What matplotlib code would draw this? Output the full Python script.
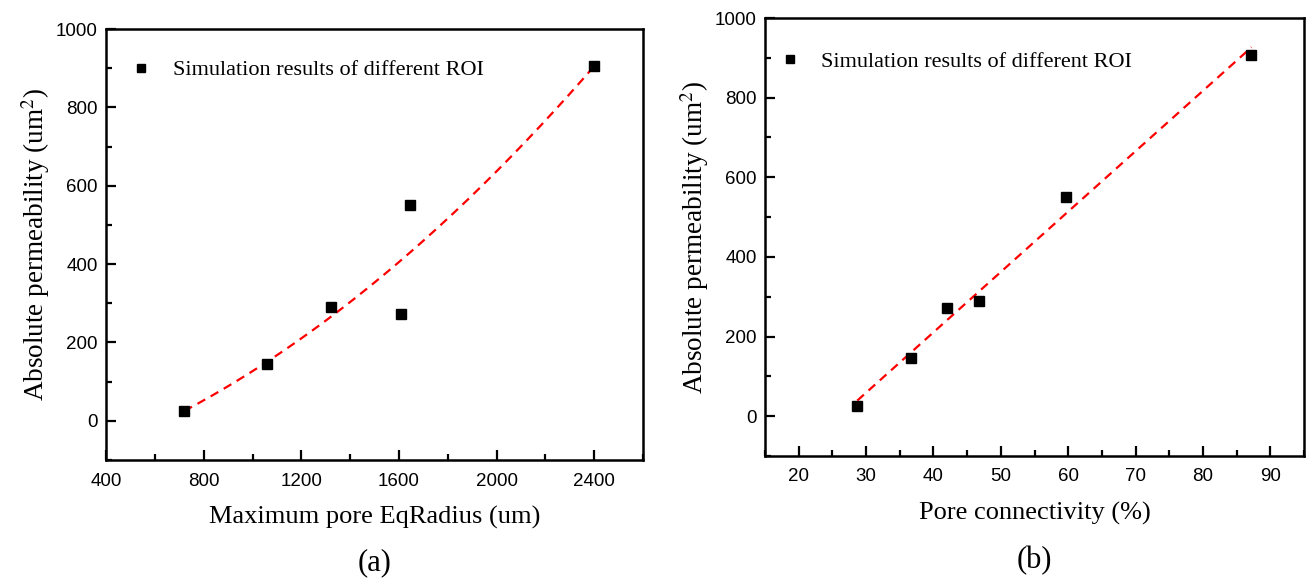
import numpy as np
import matplotlib
matplotlib.use("Agg")
import matplotlib.pyplot as plt
from matplotlib.ticker import MultipleLocator

plt.rcParams["mathtext.fontset"] = "stix"

# panel (a): maximum pore equivalent radius vs permeability
radius_um = [720, 1060, 1320, 1610, 1645, 2400]
perm_a = [25, 145, 290, 272, 550, 905]

# panel (b): pore connectivity vs permeability
connectivity_pct = [28.7, 36.7, 42.0, 46.7, 59.7, 87.2]
perm_b = [25, 145, 272, 290, 550, 907]

LEGEND_TEXT = "Simulation results of different ROI"
YLABEL = "Absolute permeability (um$^{2}$)"
SERIF = "Liberation Serif"
SANS = "Liberation Sans"


def style_axes(ax):
    for sp in ax.spines.values():
        sp.set_linewidth(1.8)
    ax.tick_params(which="both", direction="in", top=False, right=False, width=1.6)
    ax.tick_params(which="major", length=7, labelsize=13.5)
    ax.tick_params(axis="x", which="major", pad=9)
    ax.tick_params(axis="y", which="major", pad=6)
    ax.tick_params(which="minor", length=4)
    for lab in ax.get_xticklabels() + ax.get_yticklabels():
        lab.set_fontfamily(SANS)


def add_panel(ax, x, y, deg, xlim, xmajor, xminor, xlabel, tag, leg_pos):
    x = np.asarray(x, dtype=float)
    y = np.asarray(y, dtype=float)
    coef = np.polyfit(x, y, deg)
    xf = np.linspace(x.min(), x.max(), 200)
    ax.plot(xf, np.polyval(coef, xf), color="red", linestyle=(0, (4, 2.8)), linewidth=1.6, zorder=2)
    ax.plot(x, y, linestyle="none", marker="s", markersize=7.8, color="black", zorder=3,
            label=LEGEND_TEXT)
    ax.set_xlim(*xlim)
    ax.set_ylim(-100, 1000)
    ax.xaxis.set_major_locator(MultipleLocator(xmajor))
    ax.xaxis.set_minor_locator(MultipleLocator(xminor))
    ax.yaxis.set_major_locator(MultipleLocator(200))
    ax.yaxis.set_minor_locator(MultipleLocator(100))
    ax.set_xlabel(xlabel, fontsize=19, fontfamily=SERIF, labelpad=12)
    ax.set_ylabel(YLABEL, fontsize=19.5, fontfamily=SERIF, labelpad=3)
    style_axes(ax)
    ax.legend(loc="center left", bbox_to_anchor=leg_pos, frameon=False,
              borderpad=0, borderaxespad=0,
              prop={"family": SERIF, "size": 16}, markerscale=0.72,
              handlelength=1.2, handletextpad=0.8)
    ax.text(0.5, -0.239, tag, transform=ax.transAxes, ha="center", va="center",
            fontsize=22, fontfamily=SERIF)


fig = plt.figure(figsize=(13.11, 5.82), dpi=100)
ax_a = fig.add_axes([0.0809, 0.2096, 0.4096, 0.7404])
ax_b = fig.add_axes([0.5835, 0.2165, 0.4112, 0.7525])

add_panel(ax_a, radius_um, perm_a, 2, (400, 2600), 400, 200,
          "Maximum pore EqRadius (um)", "(a)", (0.041, 0.905))
add_panel(ax_b, connectivity_pct, perm_b, 1, (15, 95), 10, 5,
          "Pore connectivity (%)", "(b)", (0.022, 0.900))

fig.savefig("out.png", dpi=100)
